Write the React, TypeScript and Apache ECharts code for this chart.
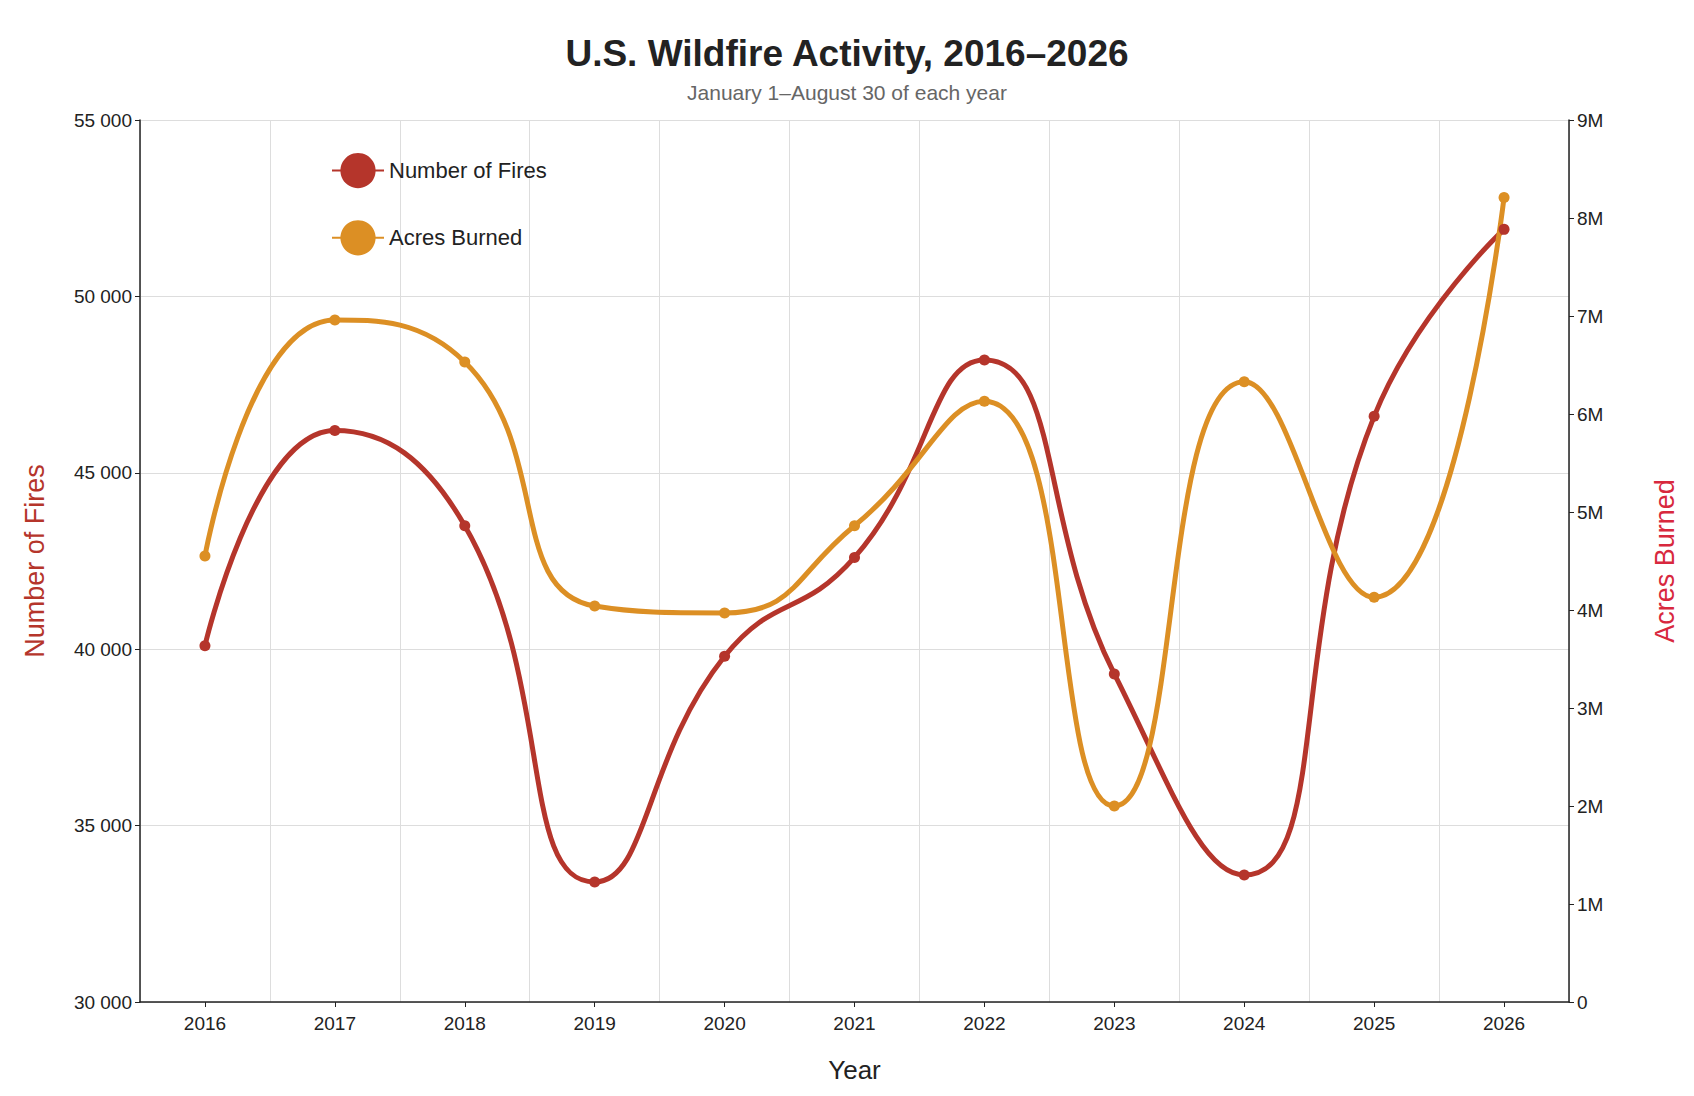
import { useEffect, useRef } from "react";
import * as echarts from "echarts";

const years = ["2016", "2017", "2018", "2019", "2020", "2021", "2022", "2023", "2024", "2025", "2026"];
const fires = [40100, 46200, 43500, 33400, 39800, 42600, 48200, 39300, 33600, 46600, 51900];
const acres = [4.55, 6.96, 6.53, 4.04, 3.97, 4.86, 6.13, 2.0, 6.33, 4.13, 8.21].map((v) => v * 1e6);

const FIRE_RED = "#b5352b";
const ACRE_ORANGE = "#dc8f24";
const FONT = "Liberation Sans, Arial, sans-serif";

export default function App() {
  const ref = useRef<HTMLDivElement | null>(null);

  useEffect(() => {
    if (!ref.current) return;
    const chart = echarts.init(ref.current, null, { renderer: "svg" });
    chart.setOption({
      animation: false,
      backgroundColor: "#fff",
      textStyle: { fontFamily: FONT },
      title: {
        text: "U.S. Wildfire Activity, 2016–2026",
        subtext: "January 1–August 30 of each year",
        left: "center",
        top: 22,
        itemGap: 10,
        textStyle: { fontSize: 37, fontWeight: "bold", color: "#222", fontFamily: FONT },
        subtextStyle: { fontSize: 21, color: "#666", fontFamily: FONT }
      },
      legend: {
        orient: "vertical",
        left: 318,
        top: 140,
        itemWidth: 52,
        itemHeight: 44,
        itemGap: 32,
        textStyle: { fontSize: 22, color: "#222", fontFamily: FONT }
      },
      grid: { left: 132, right: 105, top: 112, bottom: 85 },
      xAxis: {
        type: "category",
        data: years,
        boundaryGap: true,
        name: "Year",
        nameLocation: "middle",
        nameGap: 55,
        nameTextStyle: { fontSize: 26, color: "#222" },
        axisLine: { lineStyle: { color: "#222", width: 1.5 } },
        axisTick: { show: true, alignWithLabel: true, lineStyle: { color: "#222" } },
        axisLabel: { fontSize: 19, color: "#222", margin: 12 },
        splitLine: { show: true, interval: 0, lineStyle: { color: "#ddd" } }
      },
      yAxis: [
        {
          type: "value",
          min: 30000,
          max: 55000,
          interval: 5000,
          name: "Number of Fires",
          nameLocation: "middle",
          nameGap: 92,
          nameTextStyle: { fontSize: 27, color: FIRE_RED },
          axisLine: { show: true, lineStyle: { color: "#222", width: 1.5 } },
          axisTick: { show: true, lineStyle: { color: "#222" } },
          axisLabel: {
            fontSize: 19,
            color: "#222",
            formatter: (v: number) => `${Math.floor(v / 1000)} ${String(v % 1000).padStart(3, "0")}`
          },
          splitLine: { lineStyle: { color: "#ddd" } }
        },
        {
          type: "value",
          min: 0,
          max: 9e6,
          interval: 1e6,
          name: "Acres Burned",
          nameLocation: "middle",
          nameGap: 82,
          nameRotate: 90,
          nameTextStyle: { fontSize: 27, color: "#d8283e" },
          axisLine: { show: true, lineStyle: { color: "#222", width: 1.5 } },
          axisTick: { show: true, lineStyle: { color: "#222" } },
          axisLabel: {
            fontSize: 19,
            color: "#222",
            formatter: (v: number) => (v === 0 ? "0" : `${v / 1e6}M`)
          },
          splitLine: { show: false }
        }
      ],
      series: [
        {
          name: "Number of Fires",
          type: "line",
          yAxisIndex: 0,
          data: fires,
          smooth: 0.5,
          symbol: "circle",
          symbolSize: 11,
          lineStyle: { color: FIRE_RED, width: 5 },
          itemStyle: { color: FIRE_RED }
        },
        {
          name: "Acres Burned",
          type: "line",
          yAxisIndex: 1,
          data: acres,
          smooth: 0.5,
          symbol: "circle",
          symbolSize: 11,
          lineStyle: { color: ACRE_ORANGE, width: 5 },
          itemStyle: { color: ACRE_ORANGE }
        }
      ]
    });
    return () => chart.dispose();
  }, []);

  return <div ref={ref} style={{ width: 1678, height: 1080 }} />;
}
